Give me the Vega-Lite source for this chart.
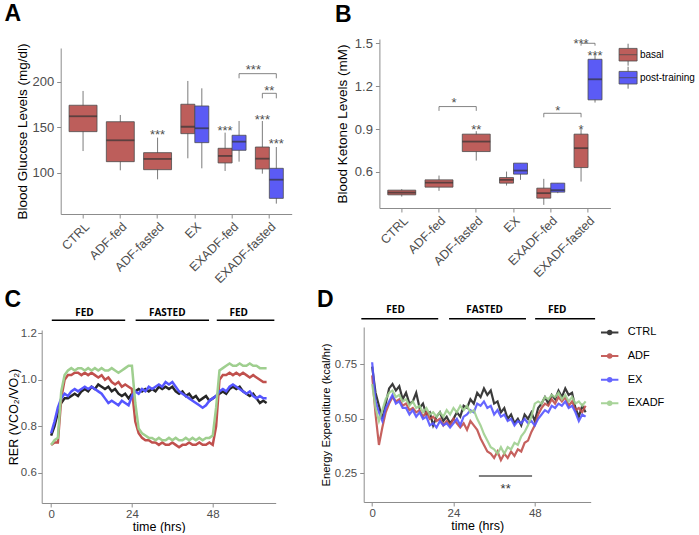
{
"$schema": "https://vega.github.io/schema/vega-lite/v6.json",
"background": "white",
"padding": {"left": 2.7, "top": 2, "right": 0, "bottom": 0},
"config": {
  "font": "Liberation Sans",
  "view": {"stroke": null},
  "axis": {"grid": false, "domainColor": "#8c8c8c", "tickColor": "#8c8c8c", "domainWidth": 1, "tickWidth": 1, "tickSize": 4, "labelColor": "#4d4d4d", "labelFont": "Liberation Sans", "titleFont": "Liberation Sans", "titleColor": "#000000", "titleFontWeight": "normal", "labelFontSize": 13, "titleFontSize": 13.5, "labelPadding": 3, "titlePadding": 3},
  "title": {"fontSize": 23, "fontWeight": "bold", "anchor": "start", "frame": "group", "color": "#000000", "font": "Liberation Sans"}
},
"datasets": {
  "dum": [{"d": 0}],
  "gluS": [
    {"cat": "CTRL", "grp": "basal", "lo": 123.8, "q1": 145.1, "med": 162, "q3": 174.1, "hi": 189.8},
    {"cat": "ADF-fed", "grp": "basal", "lo": 102.6, "q1": 112.1, "med": 135.6, "q3": 156, "hi": 163.4},
    {"cat": "ADF-fasted", "grp": "basal", "lo": 92.7, "q1": 103.3, "med": 115.1, "q3": 122, "hi": 138.5}
  ],
  "gluD": [
    {"cat": "EX", "grp": "basal", "lo": 115.8, "q1": 142.9, "med": 150.5, "q3": 175.2, "hi": 200.8},
    {"cat": "EX", "grp": "post-training", "lo": 104.8, "q1": 133, "med": 148.8, "q3": 173.3, "hi": 192.7},
    {"cat": "EXADF-fed", "grp": "basal", "lo": 101.9, "q1": 110.7, "med": 118.4, "q3": 126.8, "hi": 144},
    {"cat": "EXADF-fed", "grp": "post-training", "lo": 112.1, "q1": 124.6, "med": 134.1, "q3": 141.1, "hi": 156.8},
    {"cat": "EXADF-fasted", "grp": "basal", "lo": 98.9, "q1": 104.1, "med": 115.4, "q3": 128.2, "hi": 156.8},
    {"cat": "EXADF-fasted", "grp": "post-training", "lo": 66, "q1": 71.8, "med": 92.3, "q3": 104.8, "hi": 128.2}
  ],
  "gluStarS": [
    {"cat": "ADF-fasted", "y": 145.8, "lab": "***"},
    {"cat": "EXADF-fasted", "y": 194.2, "lab": "**"}
  ],
  "gluStarD": [
    {"cat": "EXADF-fed", "grp": "basal", "y": 150.5, "lab": "***"},
    {"cat": "EXADF-fasted", "grp": "basal", "y": 162.3, "lab": "***"},
    {"cat": "EXADF-fasted", "grp": "post-training", "y": 135.6, "lab": "***"}
  ],
  "gluStarShift": [
    {"cat": "EXADF-fasted", "grp": "basal", "y": 217, "lab": "***"}
  ],
  "gluBr": [
    {"id": "a1", "k": 0, "cat": "EXADF-fed", "grp": "post-training", "y": 203.7},
    {"id": "a1", "k": 1, "cat": "EXADF-fed", "grp": "post-training", "y": 208.8},
    {"id": "a1", "k": 2, "cat": "EXADF-fasted", "grp": "post-training", "y": 208.8},
    {"id": "a1", "k": 3, "cat": "EXADF-fasted", "grp": "post-training", "y": 203.7},
    {"id": "a2", "k": 0, "cat": "EXADF-fasted", "grp": "basal", "y": 181.7},
    {"id": "a2", "k": 1, "cat": "EXADF-fasted", "grp": "basal", "y": 187.2},
    {"id": "a2", "k": 2, "cat": "EXADF-fasted", "grp": "post-training", "y": 187.2},
    {"id": "a2", "k": 3, "cat": "EXADF-fasted", "grp": "post-training", "y": 181.7}
  ],
  "ketS": [
    {"cat": "CTRL", "grp": "basal", "lo": 0.427, "q1": 0.439, "med": 0.455, "q3": 0.472, "hi": 0.479},
    {"cat": "ADF-fed", "grp": "basal", "lo": 0.467, "q1": 0.493, "med": 0.525, "q3": 0.544, "hi": 0.574},
    {"cat": "ADF-fasted", "grp": "basal", "lo": 0.679, "q1": 0.742, "med": 0.812, "q3": 0.864, "hi": 0.885}
  ],
  "ketD": [
    {"cat": "EX", "grp": "basal", "lo": 0.504, "q1": 0.521, "med": 0.544, "q3": 0.56, "hi": 0.602},
    {"cat": "EX", "grp": "post-training", "lo": 0.544, "q1": 0.584, "med": 0.609, "q3": 0.661, "hi": 0.661},
    {"cat": "EXADF-fed", "grp": "basal", "lo": 0.369, "q1": 0.416, "med": 0.451, "q3": 0.486, "hi": 0.551},
    {"cat": "EXADF-fed", "grp": "post-training", "lo": 0.451, "q1": 0.458, "med": 0.472, "q3": 0.521, "hi": 0.521},
    {"cat": "EXADF-fasted", "grp": "basal", "lo": 0.532, "q1": 0.63, "med": 0.766, "q3": 0.864, "hi": 0.899},
    {"cat": "EXADF-fasted", "grp": "post-training", "lo": 1.085, "q1": 1.104, "med": 1.248, "q3": 1.388, "hi": 1.425}
  ],
  "ketStarS": [
    {"cat": "ADF-fasted", "y": 0.922, "lab": "**"}
  ],
  "ketStarShift": [
    {"cat": "ADF-fed", "y": 1.108, "lab": "*"}
  ],
  "ketStarD": [
    {"cat": "EXADF-fasted", "grp": "basal", "y": 0.924, "lab": "*"},
    {"cat": "EXADF-fasted", "grp": "post-training", "y": 1.441, "lab": "***"},
    {"cat": "EXADF-fed", "grp": "post-training", "y": 1.052, "lab": "*"},
    {"cat": "EXADF-fasted", "grp": "basal", "y": 1.523, "lab": "***"}
  ],
  "ketBrS": [
    {"id": "b1", "k": 0, "cat": "ADF-fed", "y": 1.027},
    {"id": "b1", "k": 1, "cat": "ADF-fed", "y": 1.057},
    {"id": "b1", "k": 2, "cat": "ADF-fasted", "y": 1.057},
    {"id": "b1", "k": 3, "cat": "ADF-fasted", "y": 1.027}
  ],
  "ketBrD": [
    {"id": "b2", "k": 0, "cat": "EXADF-fed", "grp": "basal", "y": 0.982},
    {"id": "b2", "k": 1, "cat": "EXADF-fed", "grp": "basal", "y": 1.01},
    {"id": "b2", "k": 2, "cat": "EXADF-fasted", "grp": "basal", "y": 1.01},
    {"id": "b2", "k": 3, "cat": "EXADF-fasted", "grp": "basal", "y": 0.982},
    {"id": "b3", "k": 0, "cat": "EXADF-fasted", "grp": "basal", "y": 1.483},
    {"id": "b3", "k": 1, "cat": "EXADF-fasted", "grp": "basal", "y": 1.5},
    {"id": "b3", "k": 2, "cat": "EXADF-fasted", "grp": "post-training", "y": 1.5},
    {"id": "b3", "k": 3, "cat": "EXADF-fasted", "grp": "post-training", "y": 1.483}
  ],
  "perC": [
    {"lab": "FED", "x0": 0.2, "x1": 22, "xm": 9.9},
    {"lab": "FASTED", "x0": 25.1, "x1": 46.9, "xm": 34.5},
    {"lab": "FED", "x0": 49.2, "x1": 66.3, "xm": 55.7}
  ],
  "perD": [
    {"lab": "FED", "x0": -3.2, "x1": 19.5, "xm": 6.9},
    {"lab": "FASTED", "x0": 22.7, "x1": 45.4, "xm": 33.2},
    {"lab": "FED", "x0": 48.1, "x1": 65.8, "xm": 54.6}
  ],
  "sigD": [
    {"x0": 31.5, "x1": 47.2, "xm": 39.4, "lab": "**"}
  ],
  "rer": [
    {"t":0,"CTRL":0.76,"ADF":0.72,"EX":0.77,"EXADF":0.72},
    {"t":1,"CTRL":0.80,"ADF":0.73,"EX":0.82,"EXADF":0.74},
    {"t":2,"CTRL":0.86,"ADF":0.73,"EX":0.88,"EXADF":0.75},
    {"t":3,"CTRL":0.90,"ADF":0.92,"EX":0.92,"EXADF":0.95},
    {"t":4,"CTRL":0.92,"ADF":1.00,"EX":0.94,"EXADF":1.02},
    {"t":5,"CTRL":0.92,"ADF":1.02,"EX":0.93,"EXADF":1.04},
    {"t":6,"CTRL":0.93,"ADF":1.02,"EX":0.95,"EXADF":1.05},
    {"t":7,"CTRL":0.94,"ADF":1.03,"EX":0.96,"EXADF":1.04},
    {"t":8,"CTRL":0.93,"ADF":1.03,"EX":0.95,"EXADF":1.05},
    {"t":9,"CTRL":0.95,"ADF":1.02,"EX":0.96,"EXADF":1.05},
    {"t":10,"CTRL":0.96,"ADF":1.03,"EX":0.97,"EXADF":1.04},
    {"t":11,"CTRL":0.95,"ADF":1.02,"EX":0.96,"EXADF":1.05},
    {"t":12,"CTRL":0.97,"ADF":1.03,"EX":0.97,"EXADF":1.04},
    {"t":13,"CTRL":0.96,"ADF":1.02,"EX":0.96,"EXADF":1.05},
    {"t":14,"CTRL":0.98,"ADF":1.01,"EX":0.95,"EXADF":1.04},
    {"t":15,"CTRL":0.97,"ADF":1.02,"EX":0.94,"EXADF":1.05},
    {"t":16,"CTRL":0.96,"ADF":1.00,"EX":0.92,"EXADF":1.04},
    {"t":17,"CTRL":0.97,"ADF":1.01,"EX":0.90,"EXADF":1.04},
    {"t":18,"CTRL":0.95,"ADF":0.99,"EX":0.91,"EXADF":1.05},
    {"t":19,"CTRL":0.96,"ADF":0.98,"EX":0.90,"EXADF":1.04},
    {"t":20,"CTRL":0.94,"ADF":0.99,"EX":0.89,"EXADF":1.03},
    {"t":21,"CTRL":0.93,"ADF":0.97,"EX":0.91,"EXADF":1.04},
    {"t":22,"CTRL":0.94,"ADF":0.98,"EX":0.90,"EXADF":1.05},
    {"t":23,"CTRL":0.92,"ADF":0.97,"EX":0.89,"EXADF":1.06},
    {"t":24,"CTRL":0.94,"ADF":0.96,"EX":0.93,"EXADF":1.06},
    {"t":25,"CTRL":0.95,"ADF":0.82,"EX":0.95,"EXADF":0.90},
    {"t":26,"CTRL":0.96,"ADF":0.77,"EX":0.94,"EXADF":0.79},
    {"t":27,"CTRL":0.95,"ADF":0.75,"EX":0.96,"EXADF":0.77},
    {"t":28,"CTRL":0.96,"ADF":0.74,"EX":0.95,"EXADF":0.76},
    {"t":29,"CTRL":0.95,"ADF":0.74,"EX":0.97,"EXADF":0.75},
    {"t":30,"CTRL":0.96,"ADF":0.73,"EX":0.96,"EXADF":0.75},
    {"t":31,"CTRL":0.95,"ADF":0.73,"EX":0.97,"EXADF":0.74},
    {"t":32,"CTRL":0.97,"ADF":0.72,"EX":0.98,"EXADF":0.75},
    {"t":33,"CTRL":0.96,"ADF":0.73,"EX":0.97,"EXADF":0.74},
    {"t":34,"CTRL":0.97,"ADF":0.72,"EX":0.99,"EXADF":0.74},
    {"t":35,"CTRL":0.96,"ADF":0.72,"EX":0.98,"EXADF":0.75},
    {"t":36,"CTRL":0.97,"ADF":0.73,"EX":0.99,"EXADF":0.74},
    {"t":37,"CTRL":0.95,"ADF":0.72,"EX":0.97,"EXADF":0.75},
    {"t":38,"CTRL":0.94,"ADF":0.71,"EX":0.95,"EXADF":0.74},
    {"t":39,"CTRL":0.95,"ADF":0.72,"EX":0.94,"EXADF":0.74},
    {"t":40,"CTRL":0.93,"ADF":0.72,"EX":0.93,"EXADF":0.75},
    {"t":41,"CTRL":0.94,"ADF":0.73,"EX":0.92,"EXADF":0.74},
    {"t":42,"CTRL":0.92,"ADF":0.72,"EX":0.91,"EXADF":0.75},
    {"t":43,"CTRL":0.93,"ADF":0.72,"EX":0.90,"EXADF":0.74},
    {"t":44,"CTRL":0.91,"ADF":0.73,"EX":0.89,"EXADF":0.75},
    {"t":45,"CTRL":0.92,"ADF":0.72,"EX":0.88,"EXADF":0.74},
    {"t":46,"CTRL":0.93,"ADF":0.72,"EX":0.89,"EXADF":0.75},
    {"t":47,"CTRL":0.91,"ADF":0.73,"EX":0.91,"EXADF":0.75},
    {"t":48,"CTRL":0.92,"ADF":0.72,"EX":0.92,"EXADF":0.76},
    {"t":49,"CTRL":0.93,"ADF":0.80,"EX":0.93,"EXADF":0.88},
    {"t":50,"CTRL":0.94,"ADF":1.00,"EX":0.95,"EXADF":1.04},
    {"t":51,"CTRL":0.95,"ADF":1.02,"EX":0.96,"EXADF":1.05},
    {"t":52,"CTRL":0.94,"ADF":1.02,"EX":0.95,"EXADF":1.06},
    {"t":53,"CTRL":0.96,"ADF":1.03,"EX":0.97,"EXADF":1.07},
    {"t":54,"CTRL":0.97,"ADF":1.02,"EX":0.98,"EXADF":1.06},
    {"t":55,"CTRL":0.96,"ADF":1.03,"EX":0.97,"EXADF":1.06},
    {"t":56,"CTRL":0.97,"ADF":1.02,"EX":0.96,"EXADF":1.07},
    {"t":57,"CTRL":0.95,"ADF":1.03,"EX":0.95,"EXADF":1.06},
    {"t":58,"CTRL":0.94,"ADF":1.02,"EX":0.94,"EXADF":1.06},
    {"t":59,"CTRL":0.93,"ADF":1.01,"EX":0.95,"EXADF":1.07},
    {"t":60,"CTRL":0.94,"ADF":1.02,"EX":0.93,"EXADF":1.06},
    {"t":61,"CTRL":0.92,"ADF":1.01,"EX":0.92,"EXADF":1.06},
    {"t":62,"CTRL":0.90,"ADF":1.00,"EX":0.93,"EXADF":1.05},
    {"t":63,"CTRL":0.91,"ADF":0.99,"EX":0.92,"EXADF":1.05},
    {"t":64,"CTRL":0.90,"ADF":0.99,"EX":0.92,"EXADF":1.05}
  ],
  "ee": [
    {"t":0,"CTRL":0.74,"ADF":0.70,"EX":0.76,"EXADF":0.66},
    {"t":1,"CTRL":0.62,"ADF":0.52,"EX":0.58,"EXADF":0.55},
    {"t":2,"CTRL":0.56,"ADF":0.38,"EX":0.53,"EXADF":0.49},
    {"t":3,"CTRL":0.50,"ADF":0.46,"EX":0.49,"EXADF":0.54},
    {"t":4,"CTRL":0.57,"ADF":0.53,"EX":0.55,"EXADF":0.59},
    {"t":5,"CTRL":0.64,"ADF":0.57,"EX":0.58,"EXADF":0.62},
    {"t":6,"CTRL":0.66,"ADF":0.60,"EX":0.61,"EXADF":0.63},
    {"t":7,"CTRL":0.63,"ADF":0.58,"EX":0.57,"EXADF":0.60},
    {"t":8,"CTRL":0.65,"ADF":0.59,"EX":0.58,"EXADF":0.61},
    {"t":9,"CTRL":0.59,"ADF":0.56,"EX":0.55,"EXADF":0.58},
    {"t":10,"CTRL":0.62,"ADF":0.57,"EX":0.55,"EXADF":0.59},
    {"t":11,"CTRL":0.57,"ADF":0.54,"EX":0.52,"EXADF":0.56},
    {"t":12,"CTRL":0.58,"ADF":0.55,"EX":0.54,"EXADF":0.58},
    {"t":13,"CTRL":0.62,"ADF":0.53,"EX":0.51,"EXADF":0.55},
    {"t":14,"CTRL":0.55,"ADF":0.54,"EX":0.53,"EXADF":0.56},
    {"t":15,"CTRL":0.57,"ADF":0.51,"EX":0.50,"EXADF":0.53},
    {"t":16,"CTRL":0.52,"ADF":0.53,"EX":0.51,"EXADF":0.55},
    {"t":17,"CTRL":0.53,"ADF":0.50,"EX":0.47,"EXADF":0.52},
    {"t":18,"CTRL":0.47,"ADF":0.51,"EX":0.48,"EXADF":0.53},
    {"t":19,"CTRL":0.51,"ADF":0.49,"EX":0.46,"EXADF":0.51},
    {"t":20,"CTRL":0.53,"ADF":0.50,"EX":0.49,"EXADF":0.53},
    {"t":21,"CTRL":0.49,"ADF":0.47,"EX":0.47,"EXADF":0.51},
    {"t":22,"CTRL":0.51,"ADF":0.49,"EX":0.48,"EXADF":0.54},
    {"t":23,"CTRL":0.48,"ADF":0.47,"EX":0.46,"EXADF":0.52},
    {"t":24,"CTRL":0.50,"ADF":0.50,"EX":0.48,"EXADF":0.55},
    {"t":25,"CTRL":0.53,"ADF":0.48,"EX":0.50,"EXADF":0.53},
    {"t":26,"CTRL":0.51,"ADF":0.46,"EX":0.47,"EXADF":0.56},
    {"t":27,"CTRL":0.56,"ADF":0.48,"EX":0.51,"EXADF":0.54},
    {"t":28,"CTRL":0.55,"ADF":0.45,"EX":0.52,"EXADF":0.56},
    {"t":29,"CTRL":0.59,"ADF":0.49,"EX":0.54,"EXADF":0.53},
    {"t":30,"CTRL":0.57,"ADF":0.47,"EX":0.53,"EXADF":0.54},
    {"t":31,"CTRL":0.62,"ADF":0.45,"EX":0.57,"EXADF":0.50},
    {"t":32,"CTRL":0.60,"ADF":0.41,"EX":0.56,"EXADF":0.47},
    {"t":33,"CTRL":0.64,"ADF":0.38,"EX":0.58,"EXADF":0.43},
    {"t":34,"CTRL":0.61,"ADF":0.35,"EX":0.55,"EXADF":0.40},
    {"t":35,"CTRL":0.63,"ADF":0.34,"EX":0.56,"EXADF":0.37},
    {"t":36,"CTRL":0.57,"ADF":0.32,"EX":0.52,"EXADF":0.36},
    {"t":37,"CTRL":0.58,"ADF":0.35,"EX":0.54,"EXADF":0.34},
    {"t":38,"CTRL":0.53,"ADF":0.31,"EX":0.51,"EXADF":0.37},
    {"t":39,"CTRL":0.55,"ADF":0.34,"EX":0.52,"EXADF":0.34},
    {"t":40,"CTRL":0.50,"ADF":0.32,"EX":0.49,"EXADF":0.37},
    {"t":41,"CTRL":0.52,"ADF":0.35,"EX":0.50,"EXADF":0.36},
    {"t":42,"CTRL":0.48,"ADF":0.33,"EX":0.47,"EXADF":0.39},
    {"t":43,"CTRL":0.50,"ADF":0.36,"EX":0.49,"EXADF":0.38},
    {"t":44,"CTRL":0.47,"ADF":0.35,"EX":0.48,"EXADF":0.42},
    {"t":45,"CTRL":0.52,"ADF":0.39,"EX":0.50,"EXADF":0.44},
    {"t":46,"CTRL":0.50,"ADF":0.40,"EX":0.48,"EXADF":0.47},
    {"t":47,"CTRL":0.53,"ADF":0.44,"EX":0.49,"EXADF":0.51},
    {"t":48,"CTRL":0.49,"ADF":0.47,"EX":0.47,"EXADF":0.57},
    {"t":49,"CTRL":0.55,"ADF":0.52,"EX":0.50,"EXADF":0.58},
    {"t":50,"CTRL":0.57,"ADF":0.55,"EX":0.52,"EXADF":0.57},
    {"t":51,"CTRL":0.60,"ADF":0.57,"EX":0.54,"EXADF":0.60},
    {"t":52,"CTRL":0.57,"ADF":0.56,"EX":0.53,"EXADF":0.59},
    {"t":53,"CTRL":0.61,"ADF":0.59,"EX":0.56,"EXADF":0.61},
    {"t":54,"CTRL":0.59,"ADF":0.57,"EX":0.55,"EXADF":0.60},
    {"t":55,"CTRL":0.63,"ADF":0.60,"EX":0.57,"EXADF":0.62},
    {"t":56,"CTRL":0.60,"ADF":0.58,"EX":0.56,"EXADF":0.59},
    {"t":57,"CTRL":0.64,"ADF":0.60,"EX":0.58,"EXADF":0.61},
    {"t":58,"CTRL":0.61,"ADF":0.56,"EX":0.55,"EXADF":0.58},
    {"t":59,"CTRL":0.62,"ADF":0.58,"EX":0.56,"EXADF":0.60},
    {"t":60,"CTRL":0.55,"ADF":0.54,"EX":0.53,"EXADF":0.57},
    {"t":61,"CTRL":0.51,"ADF":0.55,"EX":0.49,"EXADF":0.58},
    {"t":62,"CTRL":0.56,"ADF":0.53,"EX":0.52,"EXADF":0.56},
    {"t":63,"CTRL":0.53,"ADF":0.56,"EX":0.51,"EXADF":0.58}
  ]
},
"spacing": 1,
"resolve": {"scale": {"color": "independent"}, "legend": {"color": "independent"}},
"vconcat": [
 {
  "spacing": 41.7,
  "resolve": {"scale": {"color": "independent"}, "legend": {"color": "independent"}},
  "hconcat": [
   {
    "columns": 2, "spacing": 0,
    "resolve": {"scale": {"color": "independent"}, "legend": {"color": "independent"}},
    "concat": [
     {"width": 1, "height": 1, "data": {"name": "dum"}, "mark": {"type": "point", "opacity": 0, "size": 0}},
     {"width": 1, "height": 1, "data": {"name": "dum"}, "mark": {"type": "point", "opacity": 0, "size": 0}},
     {"width": 1, "height": 1, "data": {"name": "dum"}, "mark": {"type": "point", "opacity": 0, "size": 0}},
     {
      "width": 231, "height": 166,
      "title": {"text": "A", "dx": -56.3, "offset": 16.7},
      "layer": [
       {"data": {"name": "gluS"}, "mark": {"type": "rule", "color": "#595959", "strokeWidth": 0.8},
        "encoding": {
          "x": {"field": "cat", "type": "nominal", "title": null, "scale": {"domain": ["CTRL","ADF-fed","ADF-fasted","EX","EXADF-fed","EXADF-fasted"], "paddingInner": 0, "paddingOuter": 0.1}, "axis": {"labelAngle": -45, "labelAlign": "right", "labelBaseline": "top", "labelFontSize": 12.5, "labelPadding": 2}},
          "y": {"field": "lo", "type": "quantitative", "title": "Blood Glucose Levels (mg/dl)", "scale": {"domain": [54.6, 237], "nice": false, "zero": false}, "axis": {"values": [100, 150, 200], "titlePadding": 3}},
          "y2": {"field": "hi"}}},
       {"data": {"name": "gluS"}, "mark": {"type": "bar", "width": {"band": 0.75}, "stroke": "#4d4d4d", "strokeWidth": 0.8},
        "encoding": {
          "x": {"field": "cat", "type": "nominal", "title": null},
          "y": {"field": "q1", "type": "quantitative", "title": "Blood Glucose Levels (mg/dl)"},
          "y2": {"field": "q3"},
          "color": {"field": "grp", "type": "nominal", "scale": {"domain": ["basal", "post-training"], "range": ["#bd5e5b", "#5b5bf5"]}, "legend": null}}},
       {"data": {"name": "gluS"}, "mark": {"type": "tick", "size": 28, "thickness": 1.8, "color": "#333333"},
        "encoding": {
          "x": {"field": "cat", "type": "nominal", "title": null},
          "y": {"field": "med", "type": "quantitative", "title": "Blood Glucose Levels (mg/dl)"}}},
       {"data": {"name": "gluD"}, "mark": {"type": "rule", "color": "#595959", "strokeWidth": 0.8},
        "encoding": {
          "x": {"field": "cat", "type": "nominal", "title": null},
          "xOffset": {"field": "grp", "type": "nominal", "scale": {"domain": ["basal", "post-training"], "paddingInner": 0, "paddingOuter": 0.333}},
          "y": {"field": "lo", "type": "quantitative", "title": "Blood Glucose Levels (mg/dl)"},
          "y2": {"field": "hi"}}},
       {"data": {"name": "gluD"}, "mark": {"type": "bar", "stroke": "#4d4d4d", "strokeWidth": 0.8},
        "encoding": {
          "x": {"field": "cat", "type": "nominal", "title": null},
          "xOffset": {"field": "grp", "type": "nominal"},
          "y": {"field": "q1", "type": "quantitative", "title": "Blood Glucose Levels (mg/dl)"},
          "y2": {"field": "q3"},
          "color": {"field": "grp", "type": "nominal", "legend": null}}},
       {"data": {"name": "gluD"}, "mark": {"type": "tick", "size": 14, "thickness": 1.8, "color": "#333333"},
        "encoding": {
          "x": {"field": "cat", "type": "nominal", "title": null},
          "xOffset": {"field": "grp", "type": "nominal"},
          "y": {"field": "med", "type": "quantitative", "title": "Blood Glucose Levels (mg/dl)"}}},
       {"data": {"name": "gluStarS"}, "mark": {"type": "text", "fontSize": 13, "color": "#4d4d4d", "baseline": "middle", "dy": 4},
        "encoding": {
          "x": {"field": "cat", "type": "nominal", "title": null},
          "y": {"field": "y", "type": "quantitative", "title": "Blood Glucose Levels (mg/dl)"},
          "text": {"field": "lab"}}},
       {"data": {"name": "gluStarD"}, "mark": {"type": "text", "fontSize": 13, "color": "#4d4d4d", "baseline": "middle", "dy": 4},
        "encoding": {
          "x": {"field": "cat", "type": "nominal", "title": null},
          "xOffset": {"field": "grp", "type": "nominal"},
          "y": {"field": "y", "type": "quantitative", "title": "Blood Glucose Levels (mg/dl)"},
          "text": {"field": "lab"}}},
       {"data": {"name": "gluStarShift"}, "mark": {"type": "text", "fontSize": 13, "color": "#4d4d4d", "baseline": "middle", "dy": 4, "dx": -9},
        "encoding": {
          "x": {"field": "cat", "type": "nominal", "title": null},
          "xOffset": {"field": "grp", "type": "nominal"},
          "y": {"field": "y", "type": "quantitative", "title": "Blood Glucose Levels (mg/dl)"},
          "text": {"field": "lab"}}},
       {"data": {"name": "gluBr"}, "mark": {"type": "line", "color": "#666666", "strokeWidth": 0.8},
        "encoding": {
          "x": {"field": "cat", "type": "nominal", "title": null},
          "xOffset": {"field": "grp", "type": "nominal"},
          "y": {"field": "y", "type": "quantitative", "title": "Blood Glucose Levels (mg/dl)"},
          "detail": {"field": "id"},
          "order": {"field": "k"}}}
      ]
     }
    ]
   },
   {
    "columns": 2, "spacing": 0,
    "resolve": {"scale": {"color": "independent"}, "legend": {"color": "independent"}},
    "concat": [
     {"width": 1, "height": 1, "data": {"name": "dum"}, "mark": {"type": "point", "opacity": 0, "size": 0}},
     {"width": 1, "height": 1, "data": {"name": "dum"}, "mark": {"type": "point", "opacity": 0, "size": 0}},
     {"width": 1, "height": 1, "data": {"name": "dum"}, "mark": {"type": "point", "opacity": 0, "size": 0}},
     {
      "width": 231, "height": 169,
      "title": {"text": "B", "dx": -44.3, "offset": 10.5},
      "layer": [
       {"data": {"name": "ketS"}, "mark": {"type": "rule", "color": "#595959", "strokeWidth": 0.8},
        "encoding": {
          "x": {"field": "cat", "type": "nominal", "title": null, "scale": {"domain": ["CTRL","ADF-fed","ADF-fasted","EX","EXADF-fed","EXADF-fasted"], "paddingInner": 0, "paddingOuter": 0.1}, "axis": {"labelAngle": -45, "labelAlign": "right", "labelBaseline": "top", "labelFontSize": 12.5, "labelPadding": 2}},
          "y": {"field": "lo", "type": "quantitative", "title": "Blood Ketone Levels (mM)", "scale": {"domain": [0.347, 1.53], "nice": false, "zero": false}, "axis": {"values": [0.6, 0.9, 1.2, 1.5], "format": ".1f", "titlePadding": 5}},
          "y2": {"field": "hi"}}},
       {"data": {"name": "ketS"}, "mark": {"type": "bar", "width": {"band": 0.75}, "stroke": "#4d4d4d", "strokeWidth": 0.8},
        "encoding": {
          "x": {"field": "cat", "type": "nominal", "title": null},
          "y": {"field": "q1", "type": "quantitative", "title": "Blood Ketone Levels (mM)"},
          "y2": {"field": "q3"},
          "color": {"field": "grp", "type": "nominal", "scale": {"domain": ["basal", "post-training"], "range": ["#bd5e5b", "#5b5bf5"]},
            "legend": {"title": null, "orient": "none", "legendX": 239.2, "legendY": 6.2, "symbolType": "M-1,-0.7H1V0.7H-1Z M-1,0H1 M0,-0.7V-1.22 M0,0.7V1.22", "symbolSize": 324, "symbolStrokeColor": "#404040", "symbolStrokeWidth": 0.8, "labelFontSize": 10, "labelColor": "#000000", "labelFont": "Liberation Sans", "rowPadding": -6, "labelOffset": 2.3}}}},
       {"data": {"name": "ketS"}, "mark": {"type": "tick", "size": 28, "thickness": 1.8, "color": "#333333"},
        "encoding": {
          "x": {"field": "cat", "type": "nominal", "title": null},
          "y": {"field": "med", "type": "quantitative", "title": "Blood Ketone Levels (mM)"}}},
       {"data": {"name": "ketD"}, "mark": {"type": "rule", "color": "#595959", "strokeWidth": 0.8},
        "encoding": {
          "x": {"field": "cat", "type": "nominal", "title": null},
          "xOffset": {"field": "grp", "type": "nominal", "scale": {"domain": ["basal", "post-training"], "paddingInner": 0, "paddingOuter": 0.333}},
          "y": {"field": "lo", "type": "quantitative", "title": "Blood Ketone Levels (mM)"},
          "y2": {"field": "hi"}}},
       {"data": {"name": "ketD"}, "mark": {"type": "bar", "stroke": "#4d4d4d", "strokeWidth": 0.8},
        "encoding": {
          "x": {"field": "cat", "type": "nominal", "title": null},
          "xOffset": {"field": "grp", "type": "nominal"},
          "y": {"field": "q1", "type": "quantitative", "title": "Blood Ketone Levels (mM)"},
          "y2": {"field": "q3"},
          "color": {"field": "grp", "type": "nominal"}}},
       {"data": {"name": "ketD"}, "mark": {"type": "tick", "size": 14, "thickness": 1.8, "color": "#333333"},
        "encoding": {
          "x": {"field": "cat", "type": "nominal", "title": null},
          "xOffset": {"field": "grp", "type": "nominal"},
          "y": {"field": "med", "type": "quantitative", "title": "Blood Ketone Levels (mM)"}}},
       {"data": {"name": "ketStarS"}, "mark": {"type": "text", "fontSize": 13, "color": "#4d4d4d", "baseline": "middle", "dy": 4},
        "encoding": {
          "x": {"field": "cat", "type": "nominal", "title": null},
          "y": {"field": "y", "type": "quantitative", "title": "Blood Ketone Levels (mM)"},
          "text": {"field": "lab"}}},
       {"data": {"name": "ketStarShift"}, "mark": {"type": "text", "fontSize": 13, "color": "#4d4d4d", "baseline": "middle", "dy": 4, "dx": 15},
        "encoding": {
          "x": {"field": "cat", "type": "nominal", "title": null},
          "y": {"field": "y", "type": "quantitative", "title": "Blood Ketone Levels (mM)"},
          "text": {"field": "lab"}}},
       {"data": {"name": "ketStarD"}, "mark": {"type": "text", "fontSize": 13, "color": "#4d4d4d", "baseline": "middle", "dy": 4},
        "encoding": {
          "x": {"field": "cat", "type": "nominal", "title": null},
          "xOffset": {"field": "grp", "type": "nominal"},
          "y": {"field": "y", "type": "quantitative", "title": "Blood Ketone Levels (mM)"},
          "text": {"field": "lab"}}},
       {"data": {"name": "ketBrS"}, "mark": {"type": "line", "color": "#666666", "strokeWidth": 0.8},
        "encoding": {
          "x": {"field": "cat", "type": "nominal", "title": null},
          "y": {"field": "y", "type": "quantitative", "title": "Blood Ketone Levels (mM)"},
          "detail": {"field": "id"},
          "order": {"field": "k"}}},
       {"data": {"name": "ketBrD"}, "mark": {"type": "line", "color": "#666666", "strokeWidth": 0.8},
        "encoding": {
          "x": {"field": "cat", "type": "nominal", "title": null},
          "xOffset": {"field": "grp", "type": "nominal"},
          "y": {"field": "y", "type": "quantitative", "title": "Blood Ketone Levels (mM)"},
          "detail": {"field": "id"},
          "order": {"field": "k"}}}
      ]
     }
    ]
   }
  ]
 },
 {
  "spacing": 40,
  "resolve": {"scale": {"color": "independent"}, "legend": {"color": "independent"}},
  "hconcat": [
   {
    "columns": 2, "spacing": 0,
    "resolve": {"scale": {"color": "independent"}, "legend": {"color": "independent"}},
    "concat": [
     {"width": 1, "height": 1, "data": {"name": "dum"}, "mark": {"type": "point", "opacity": 0, "size": 0}},
     {"width": 1, "height": 1, "data": {"name": "dum"}, "mark": {"type": "point", "opacity": 0, "size": 0}},
     {"width": 1, "height": 1, "data": {"name": "dum"}, "mark": {"type": "point", "opacity": 0, "size": 0}},
     {
      "width": 234, "height": 173,
      "title": {"text": "C", "dx": -37.3, "offset": -3.9},
      "layer": [
       {"data": {"name": "rer"}, "transform": [{"fold": ["CTRL", "ADF", "EX", "EXADF"], "as": ["grp", "val"]}],
        "mark": {"type": "line", "strokeWidth": 2.5},
        "encoding": {
          "x": {"field": "t", "type": "quantitative", "title": "time (hrs)", "scale": {"domain": [-2.8, 66.7], "nice": false, "zero": false}, "axis": {"values": [0, 24, 48], "labelFontSize": 11.5, "titleFontSize": 12.5, "labelPadding": 2, "titlePadding": 0}},
          "y": {"field": "val", "type": "quantitative", "title": "RER (VCO₂/VO₂)", "scale": {"domain": [0.47, 1.214], "nice": false, "zero": false}, "axis": {"values": [0.6, 0.8, 1.0, 1.2], "format": ".1f", "labelFontSize": 11.5, "titleFontSize": 12.5, "labelPadding": 1.4, "titlePadding": 0}},
          "color": {"field": "grp", "type": "nominal", "scale": {"domain": ["CTRL", "ADF", "EX", "EXADF"], "range": ["#262626", "#c0504d", "#5555ff", "#9fcf8f"]}, "legend": null}}},
       {"data": {"name": "perC"}, "mark": {"type": "rule", "color": "#000000", "strokeWidth": 1.6, "clip": false},
        "encoding": {
          "x": {"field": "x0", "type": "quantitative", "title": "time (hrs)"},
          "x2": {"field": "x1"},
          "y": {"datum": 1.256, "type": "quantitative"}}},
       {"data": {"name": "perC"}, "mark": {"type": "text", "font": "Open Sans", "fontWeight": "bold", "fontSize": 10, "color": "#000000", "baseline": "middle", "clip": false},
        "encoding": {
          "x": {"field": "xm", "type": "quantitative", "title": "time (hrs)"},
          "y": {"datum": 1.288, "type": "quantitative"},
          "text": {"field": "lab"}}}
      ]
     }
    ]
   },
   {
    "columns": 2, "spacing": 0,
    "resolve": {"scale": {"color": "independent"}, "legend": {"color": "independent"}},
    "concat": [
     {"width": 1, "height": 1, "data": {"name": "dum"}, "mark": {"type": "point", "opacity": 0, "size": 0}},
     {"width": 1, "height": 1, "data": {"name": "dum"}, "mark": {"type": "point", "opacity": 0, "size": 0}},
     {"width": 1, "height": 1, "data": {"name": "dum"}, "mark": {"type": "point", "opacity": 0, "size": 0}},
     {
      "width": 227, "height": 175,
      "title": {"text": "D", "dx": -46.7, "offset": -6.5},
      "layer": [
       {"data": {"name": "ee"}, "transform": [{"fold": ["CTRL", "ADF", "EX", "EXADF"], "as": ["grp", "val"]}],
        "mark": {"type": "line", "strokeWidth": 2.2, "opacity": 0.9},
        "encoding": {
          "x": {"field": "t", "type": "quantitative", "title": "time (hrs)", "scale": {"domain": [-2.5, 64.5], "nice": false, "zero": false}, "axis": {"values": [0, 24, 48], "labelFontSize": 11.5, "titleFontSize": 12.5, "labelPadding": 2, "titlePadding": 0}},
          "y": {"field": "val", "type": "quantitative", "title": "Energy Expenditure (kcal/hr)", "scale": {"domain": [0.118, 0.922], "nice": false, "zero": false}, "axis": {"values": [0.25, 0.5, 0.75], "format": ".2f", "labelFontSize": 11.5, "titleFontSize": 11.3, "titlePadding": 3}},
          "color": {"field": "grp", "type": "nominal", "scale": {"domain": ["CTRL", "ADF", "EX", "EXADF"], "range": ["#262626", "#c0504d", "#5555ff", "#9fcf8f"]},
            "legend": {"title": null, "orient": "none", "legendX": 236, "legendY": -4.5, "symbolType": "M-1,0H1 M0.2,0A0.2,0.2 0 1,0 -0.2,0A0.2,0.2 0 1,0 0.2,0", "symbolSize": 303, "symbolStrokeWidth": 2, "labelFontSize": 11, "labelColor": "#000000", "labelFont": "Liberation Sans", "rowPadding": 7.6, "labelOffset": 8}}}},
       {"data": {"name": "perD"}, "mark": {"type": "rule", "color": "#000000", "strokeWidth": 1.6, "clip": false},
        "encoding": {
          "x": {"field": "x0", "type": "quantitative", "title": "time (hrs)"},
          "x2": {"field": "x1"},
          "y": {"datum": 0.96, "type": "quantitative"}}},
       {"data": {"name": "perD"}, "mark": {"type": "text", "font": "Open Sans", "fontWeight": "bold", "fontSize": 10, "color": "#000000", "baseline": "middle", "clip": false},
        "encoding": {
          "x": {"field": "xm", "type": "quantitative", "title": "time (hrs)"},
          "y": {"datum": 0.999, "type": "quantitative"},
          "text": {"field": "lab"}}},
       {"data": {"name": "sigD"}, "mark": {"type": "rule", "color": "#808080", "strokeWidth": 2},
        "encoding": {
          "x": {"field": "x0", "type": "quantitative", "title": "time (hrs)"},
          "x2": {"field": "x1"},
          "y": {"datum": 0.2375, "type": "quantitative"}}},
       {"data": {"name": "sigD"}, "mark": {"type": "text", "fontSize": 13, "color": "#333333", "baseline": "middle", "dy": 4},
        "encoding": {
          "x": {"field": "xm", "type": "quantitative", "title": "time (hrs)"},
          "y": {"datum": 0.198, "type": "quantitative"},
          "text": {"field": "lab"}}}
      ]
     }
    ]
   }
  ]
 }
]
}
